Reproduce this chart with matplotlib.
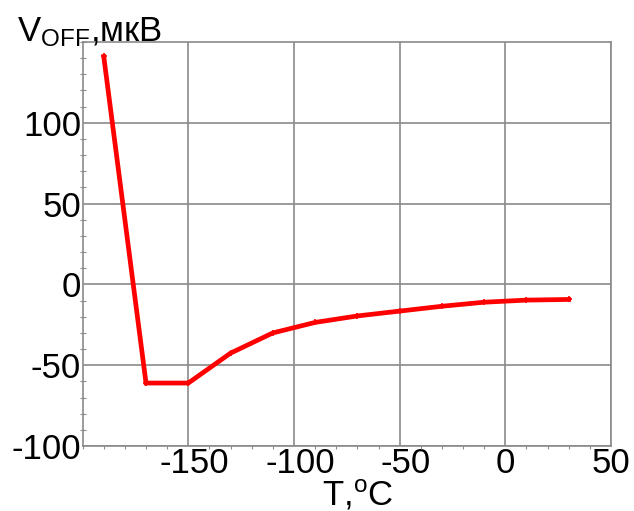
import matplotlib
matplotlib.use("Agg")
import matplotlib.pyplot as plt
import matplotlib.transforms as mtransforms
from matplotlib.ticker import MultipleLocator

# Напряжение смещения от температуры
T_C = [-190, -170, -150, -130, -110, -90, -70, -50, -30, -10, 10, 30]
V_OFF_UV = [141, -61, -61, -42.5, -30, -23.5, -19.5, -16.5, -13.5, -11, -9.7, -9.3]

X_TICKS = [-150, -100, -50, 0, 50]
Y_TICKS = [-100, -50, 0, 50, 100]

plt.rcParams.update({
    "font.family": ["Liberation Sans", "DejaVu Sans"],
    "mathtext.fontset": "custom",
    "mathtext.rm": "Liberation Sans",
    "mathtext.it": "Liberation Sans",
    "font.size": 25,
})

GRID = "#8a8a8a"

fig = plt.figure(figsize=(6.34, 5.11), dpi=100)
ax = fig.add_axes([0.1303, 0.127, 0.9637 - 0.1303, 0.918 - 0.127])

ax.plot(T_C, V_OFF_UV, color="#ff0000", lw=3.4, marker="+", ms=4, mew=1.2,
        solid_joinstyle="miter", zorder=3)

ax.set_xlim(-200, 50)
ax.set_ylim(-100, 150)
ax.set_xticks(X_TICKS)
ax.set_yticks(Y_TICKS)
ax.xaxis.set_minor_locator(MultipleLocator(10))
ax.yaxis.set_minor_locator(MultipleLocator(10))

ax.set_xticklabels([str(v) for v in X_TICKS])
ax.set_yticklabels([str(v) for v in Y_TICKS])

ax.grid(True, which="major", color=GRID, lw=1.2)
ax.tick_params(which="major", length=0, pad=1)
ax.tick_params(which="minor", length=2.5, width=0.8, color=GRID)
ax.tick_params(axis="y", which="minor", direction="inout", length=4)
for s in ax.spines.values():
    s.set_color(GRID)
    s.set_linewidth(1.2)

# центрируем цифры под линиями сетки, знак минуса выносим влево
for lab, v in zip(ax.get_xticklabels(), X_TICKS):
    if v < 0:
        lab.set_transform(lab.get_transform() +
                          mtransforms.ScaledTranslation(6 / 100, 0, fig.dpi_scale_trans))

fig.text(17 / 634, 1 - 41 / 511, "V$_{\\mathregular{OFF}}$,мкВ", fontsize=25,
         ha="left", va="baseline")
fig.text(322 / 634, 1 - 505 / 511, "T,$^{\\mathregular{o}}$C", fontsize=25,
         ha="left", va="baseline")

fig.savefig("out.png", dpi=100)
